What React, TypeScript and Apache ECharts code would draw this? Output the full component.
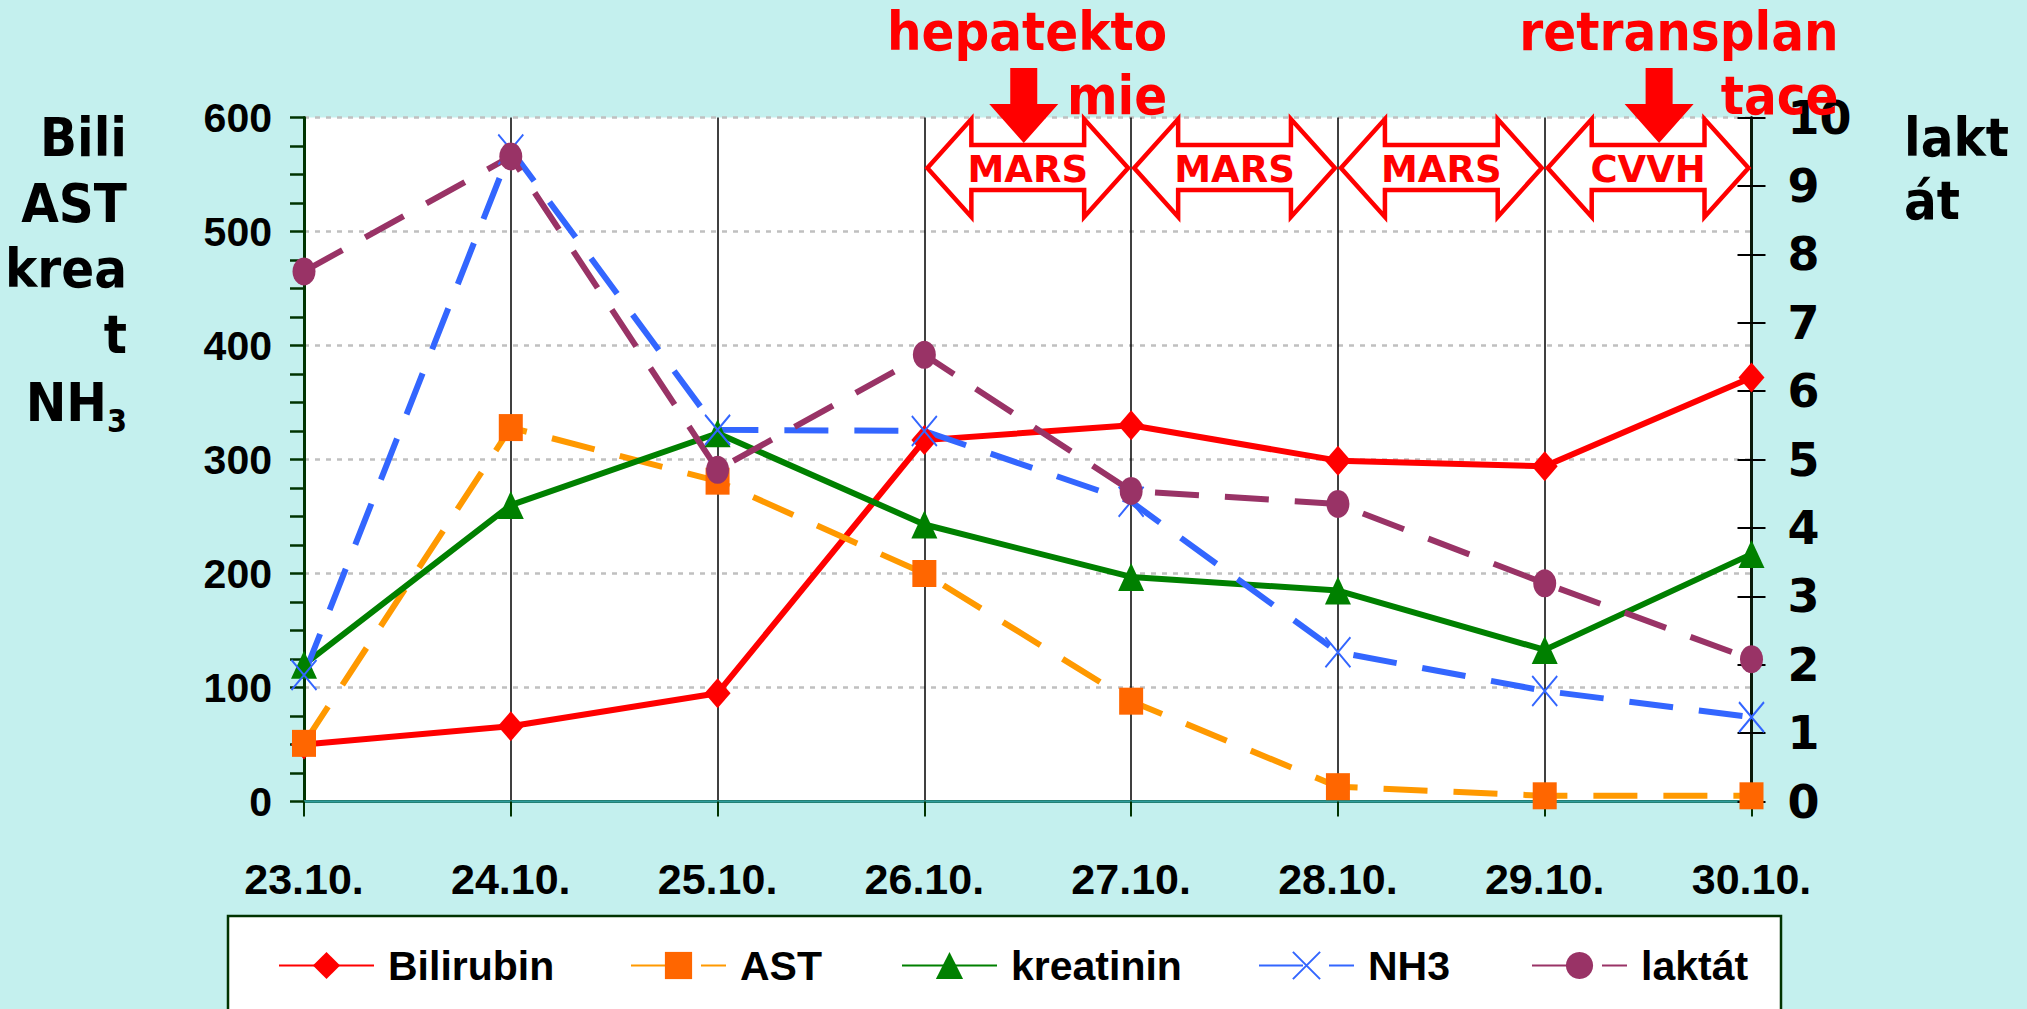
import React, { useEffect, useRef } from "react";
import * as echarts from "echarts";

// ---- data ----
const categories = ["23.10.", "24.10.", "25.10.", "26.10.", "27.10.", "28.10.", "29.10.", "30.10."];
const bilirubin = [50, 66, 95, 317, 330, 299, 294, 372];
const ast = [51, 328, 281, 200, 88, 13, 5, 5];
const kreatinin = [120, 260, 323, 243, 197, 185, 133, 217];
const nh3 = [111, 572, 326, 325, 263, 131, 97, 74];
const laktat = [7.75, 9.43, 4.85, 6.53, 4.54, 4.35, 3.19, 2.08];
const seriesNames = ["Bilirubin", "AST", "kreatinin", "NH3", "laktát"];

const leftMax = 600;
const leftStep = 100;
const rightMax = 10;
const rightStep = 1;

const therapies = ["MARS", "MARS", "MARS", "CVVH"]; // one per day interval
const therapyFirstDay = 3; // starts at 26.10.
const eventLines = [["hepatekto", "mie"], ["retransplan", "tace"]];
const eventDays = [3, 6]; // interval in which each event arrow sits
const leftTitle = ["Bili", "AST", "krea", "t"];
const rightTitle = ["lakt", "át"];

const NARROW = "'Liberation Sans Narrow', 'Liberation Sans', Arial, sans-serif";
const COND = "'DejaVu Sans Condensed', 'DejaVu Sans', sans-serif";
const DEJAVU = "'DejaVu Sans', sans-serif";

export default function App() {
  const ref = useRef<HTMLDivElement>(null);

  useEffect(() => {
    const chart = echarts.init(ref.current!, null, { renderer: "svg" });
    const dash = [44, 26];
    const legendLefts = [278, 630, 901, 1258, 1531];

    const option: any = {
      animation: false,
      backgroundColor: "#C4F0EE",
      grid: {
        left: 304,
        right: 275.5,
        top: 117.5,
        bottom: 207.5,
        show: true,
        backgroundColor: "#ffffff",
        borderWidth: 0,
      },
      xAxis: [
        {
          type: "category",
          data: categories,
          boundaryGap: false,
          axisLine: { lineStyle: { color: "#003300", width: 3 } },
          axisTick: { show: true, length: 15, lineStyle: { color: "#003300", width: 2 } },
          axisLabel: { fontSize: 43, fontWeight: "bold", fontFamily: NARROW, color: "#000", margin: 56 },
          splitLine: { show: true, lineStyle: { color: "#000", width: 1.5 } },
        },
        {
          type: "category",
          data: categories,
          boundaryGap: false,
          position: "top",
          axisLine: { lineStyle: { color: "#2F9C9C", width: 2.5 } },
          axisTick: { show: false },
          axisLabel: { show: false },
          splitLine: { show: false },
        },
      ],
      yAxis: [
        {
          type: "value",
          min: 0,
          max: leftMax,
          interval: leftStep,
          position: "left",
          axisLine: { show: true, lineStyle: { color: "#003300", width: 3 } },
          axisTick: { show: true, length: 14, lineStyle: { color: "#003300", width: 2.5 } },
          minorTick: { show: true, splitNumber: 4, length: 14, lineStyle: { color: "#003300", width: 2.5 } },
          axisLabel: { fontSize: 41, fontWeight: "bold", fontFamily: NARROW, color: "#000", margin: 32 },
          splitLine: { show: true, lineStyle: { color: "#C0C0C0", width: 2.5, type: [5, 6] } },
        },
        {
          type: "value",
          min: 0,
          max: rightMax,
          interval: rightStep,
          position: "right",
          offset: 0,
          axisLine: { show: true, lineStyle: { color: "#0A1A0A", width: 3 } },
          axisTick: { show: true, length: 14, lineStyle: { color: "#000", width: 2 } },
          axisLabel: { fontSize: 46, fontWeight: "bold", fontFamily: DEJAVU, color: "#000", margin: 36 },
          splitLine: { show: false },
        },
        {
          type: "value",
          min: 0,
          max: rightMax,
          interval: rightStep,
          position: "right",
          offset: 0,
          axisLine: { show: false },
          axisTick: { show: true, inside: true, length: 14, lineStyle: { color: "#000", width: 2 } },
          axisLabel: { show: false },
          splitLine: { show: false },
        },
      ],
      legend: seriesNames.map((n, i) => ({
        data: [n],
        left: legendLefts[i],
        top: 945,
        padding: 0,
        itemWidth: 95,
        itemHeight: 34,
        selectedMode: false,
        textStyle: {
          fontSize: 41,
          fontWeight: "bold",
          fontFamily: NARROW,
          color: "#000",
          padding: [0, 0, 0, 9],
        },
      })),
      series: [
        {
          name: seriesNames[0],
          type: "line",
          data: bilirubin,
          yAxisIndex: 0,
          symbol: "diamond",
          symbolSize: [26, 30],
          lineStyle: { color: "#FF0000", width: 6 },
          itemStyle: { color: "#FF0000", borderWidth: 0 },
        },
        {
          name: seriesNames[1],
          type: "line",
          data: ast,
          yAxisIndex: 0,
          symbol: "rect",
          symbolSize: [24, 27],
          lineStyle: { color: "#FF9900", width: 6, type: dash },
          itemStyle: { color: "#FF6600", borderWidth: 0 },
        },
        {
          name: seriesNames[2],
          type: "line",
          data: kreatinin,
          yAxisIndex: 0,
          symbol: "triangle",
          symbolSize: [26, 28],
          lineStyle: { color: "#008000", width: 6 },
          itemStyle: { color: "#008000", borderWidth: 0 },
        },
        {
          name: seriesNames[3],
          type: "line",
          data: nh3,
          yAxisIndex: 0,
          symbol: "path://M0,0L20,30M20,0L0,30",
          symbolSize: [25, 30],
          lineStyle: { color: "#3366FF", width: 6, type: dash },
          itemStyle: { color: "#3366FF", borderColor: "#3366FF", borderWidth: 2 },
        },
        {
          name: seriesNames[4],
          type: "line",
          data: laktat,
          yAxisIndex: 1,
          symbol: "circle",
          symbolSize: [23, 28],
          lineStyle: { color: "#993366", width: 6, type: dash },
          itemStyle: { color: "#993366", borderWidth: 0 },
        },
      ],
    };

    chart.setOption(option);

    const px = categories.map((_, i) => chart.convertToPixel({ xAxisIndex: 0 }, i) as number);
    const gridTop = 117.5;

    const red = "#FF0000";
    const graphics: any[] = [];

    // legend frame
    graphics.push({
      type: "rect",
      shape: { x: 228, y: 916, width: 1553, height: 130 },
      style: { fill: "#ffffff", stroke: "#003300", lineWidth: 2.5 },
      z: 1,
    });

    // therapy double arrows
    therapies.forEach((t, k) => {
      const i = therapyFirstDay + k;
      const x0 = px[i] + 3;
      const x1 = px[i + 1] - 3;
      const h = 44;
      const yT = gridTop + 50.5;
      const yHT = gridTop + 1.5;
      const yHB = gridTop + 99.5;
      const yBT = gridTop + 27.5;
      const yBB = gridTop + 72.5;
      graphics.push({
        type: "polygon",
        shape: {
          points: [
            [x0, yT], [x0 + h, yHT], [x0 + h, yBT], [x1 - h, yBT], [x1 - h, yHT],
            [x1, yT], [x1 - h, yHB], [x1 - h, yBB], [x0 + h, yBB], [x0 + h, yHB],
          ],
        },
        style: { fill: "#ffffff", stroke: red, lineWidth: 4.5, lineJoin: "miter" },
        z: 100,
      });
      graphics.push({
        type: "text",
        x: (x0 + x1) / 2,
        y: gridTop + 52,
        style: {
          text: t,
          fill: red,
          fontSize: 37,
          fontWeight: "bold",
          fontFamily: DEJAVU,
          align: "center",
          verticalAlign: "middle",
        },
        z: 101,
      });
    });

    // event arrows + labels
    const arrowShift = [-4, 11];
    const labelRight = [36, 87];
    eventDays.forEach((d, k) => {
      const cx = (px[d] + px[d + 1]) / 2 + arrowShift[k];
      graphics.push({
        type: "polygon",
        shape: {
          points: [
            [cx - 13.5, 68], [cx + 13.5, 68], [cx + 13.5, 104], [cx + 34.5, 104],
            [cx, 143], [cx - 34.5, 104], [cx - 13.5, 104],
          ],
        },
        style: { fill: red },
        z: 102,
      });
      const rx = px[d + 1] + labelRight[k];
      eventLines[k].forEach((line, j) => {
        graphics.push({
          type: "text",
          x: rx,
          y: 31.5 + j * 64,
          style: {
            text: line,
            fill: red,
            fontSize: 54,
            fontWeight: "bold",
            fontFamily: COND,
            align: "right",
            verticalAlign: "middle",
          },
          z: 103,
        });
      });
    });

    // left axis title
    leftTitle.forEach((line, j) => {
      graphics.push({
        type: "text",
        x: 127,
        y: 137.5 + j * 65.5,
        style: {
          text: line,
          fill: "#000",
          fontSize: 54,
          fontWeight: "bold",
          fontFamily: COND,
          align: "right",
          verticalAlign: "middle",
        },
        z: 100,
      });
    });
    graphics.push({
      type: "text",
      x: 107,
      y: 402.5,
      style: { text: "NH", fill: "#000", fontSize: 54, fontWeight: "bold", fontFamily: COND, align: "right", verticalAlign: "middle" },
      z: 100,
    });
    graphics.push({
      type: "text",
      x: 127,
      y: 421,
      style: { text: "3", fill: "#000", fontSize: 32, fontWeight: "bold", fontFamily: COND, align: "right", verticalAlign: "middle" },
      z: 100,
    });

    // right axis title
    rightTitle.forEach((line, j) => {
      graphics.push({
        type: "text",
        x: 1904,
        y: 137.5 + j * 63,
        style: {
          text: line,
          fill: "#000",
          fontSize: 54,
          fontWeight: "bold",
          fontFamily: COND,
          align: "left",
          verticalAlign: "middle",
        },
        z: 100,
      });
    });

    chart.setOption({ graphic: graphics });

    return () => chart.dispose();
  }, []);

  return (
    <div
      ref={ref}
      style={{ position: "fixed", left: 0, top: 0, width: 2027, height: 1009 }}
    />
  );
}
